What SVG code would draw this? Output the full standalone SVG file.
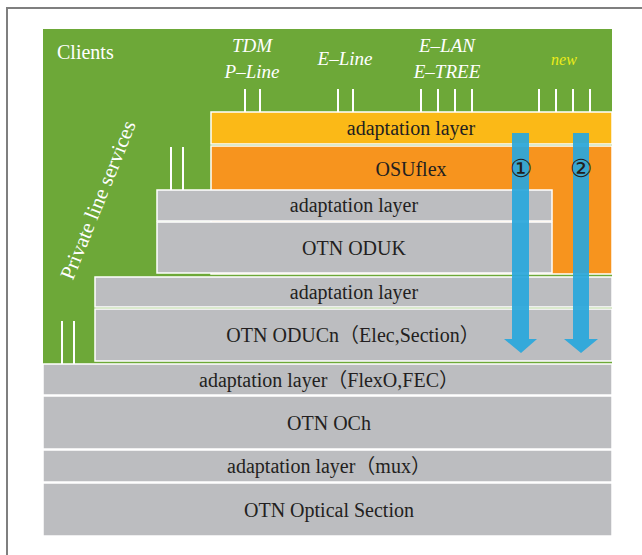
<svg xmlns="http://www.w3.org/2000/svg" width="642" height="555" viewBox="0 0 642 555">
  <style>
    .frame { fill: none; stroke: #7f7f7f; stroke-width: 2; }
    .box { stroke: #ffffff; stroke-width: 1.5; }
    .grey { fill: #bcbdc0; }
    .yellow { fill: #fbb917; }
    .orange { fill: #f7941e; }
    .tick { stroke: #ffffff; stroke-width: 2; }
    .serif { font-family: "Liberation Serif", "DejaVu Serif", "Times New Roman", "Noto Sans CJK SC", serif; }
    .lbl { font-size: 20px; fill: #231f20; text-anchor: middle; }
    .client { font-size: 19px; font-style: italic; fill: #ffffff; text-anchor: middle; }
    .arrow { fill: #2aa7dc; opacity: 0.93; }
    .num { font-family: "DejaVu Sans", "Noto Sans CJK SC", sans-serif; font-size: 25px; fill: #231f20; text-anchor: middle; }
  </style>

  <!-- outer frame -->
  <path class="frame" d="M7,555 V8 H642"/>

  <!-- client area -->
  <rect x="43" y="29" width="569" height="335" fill="#6da838"/>
  <g class="serif">
    <text x="57" y="59" font-size="20" fill="#ffffff">Clients</text>
    <text class="client" x="252" y="52">TDM</text>
    <text class="client" x="252" y="78">P–Line</text>
    <text class="client" x="345" y="65">E–Line</text>
    <text class="client" x="447" y="52">E–LAN</text>
    <text class="client" x="447" y="78">E–TREE</text>
    <text class="client" x="564" y="65" style="fill:#ecec1a;font-size:16px">new</text>
    <text x="98" y="207" transform="rotate(-68 98 200)" font-size="21" fill="#ffffff" text-anchor="middle">Private line services</text>
  </g>

  <!-- client service ticks -->
  <g id="ticks">
    <path class="tick" d="M245,89V112 M260,89V112 M338,89V112 M353,89V112 M421,89V112 M438,89V112 M455,89V112 M472,89V112 M539,89V112 M556,89V112 M573,89V112 M590,89V112 M171,147V190 M183,147V190 M62,321V364 M74,321V364"/>
  </g>

  <g id="osu-adapt">
    <rect class="box yellow" x="211" y="112" width="401" height="32"/>
    <text class="lbl serif" x="411" y="135">adaptation layer</text>
  </g>
  <g id="osuflex">
    <rect class="box orange" x="211" y="146" width="401" height="128"/>
    <text class="lbl serif" x="411" y="176">OSUflex</text>
  </g>
  <g id="oduk-adapt">
    <rect class="box grey" x="157" y="190" width="395" height="31"/>
    <text class="lbl serif" x="354" y="212">adaptation layer</text>
  </g>
  <g id="oduk">
    <rect class="box grey" x="157" y="222" width="395" height="51"/>
    <text class="lbl serif" x="354" y="255">OTN ODUK</text>
  </g>
  <g id="oducn-adapt">
    <rect class="box grey" x="95" y="277" width="517" height="30"/>
    <text class="lbl serif" x="354" y="299">adaptation layer</text>
  </g>
  <g id="oducn">
    <rect class="box grey" x="95" y="309" width="517" height="52"/>
    <text class="lbl serif" x="353" y="342">OTN ODUCn（Elec,Section）</text>
  </g>
  <g id="flexo-adapt">
    <rect class="box grey" x="43" y="364" width="569" height="31"/>
    <text class="lbl serif" x="329" y="387">adaptation layer（FlexO,FEC）</text>
  </g>
  <g id="och">
    <rect class="box grey" x="43" y="396" width="569" height="53"/>
    <text class="lbl serif" x="329" y="430">OTN OCh</text>
  </g>
  <g id="mux-adapt">
    <rect class="box grey" x="43" y="450" width="569" height="32"/>
    <text class="lbl serif" x="329" y="473">adaptation layer（mux）</text>
  </g>
  <g id="ots">
    <rect class="box grey" x="43" y="483" width="569" height="53"/>
    <text class="lbl serif" x="329" y="517">OTN Optical Section</text>
  </g>

  <!-- mapping paths -->
  <g id="connectors">
    <path class="arrow" d="M512,133 H529 V339 H537 L521,353 L504,339 H512 Z"/>
    <path class="arrow" d="M573,133 H589 V339 H598 L581,353 L564,339 H573 Z"/>
    <text class="num" x="521" y="177">①</text>
    <text class="num" x="581" y="177">②</text>
  </g>
</svg>
